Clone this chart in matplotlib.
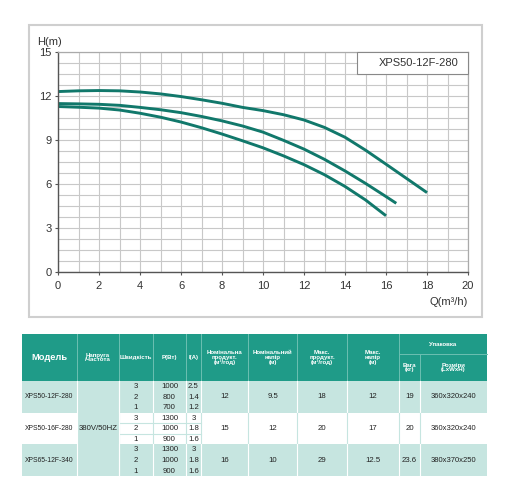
import numpy as np
import matplotlib
matplotlib.use('Agg')
import matplotlib.pyplot as plt
from matplotlib.patches import Rectangle

plt.rcParams['font.family'] = ['Liberation Sans', 'DejaVu Sans']

# pump curves
q_speed3 = [0, 1, 2, 3, 4, 5, 6, 7, 8, 9, 10, 11, 12, 13, 14, 15, 16, 17, 18]
h_speed3 = [12.3, 12.35, 12.37, 12.35, 12.27, 12.14, 11.96, 11.74, 11.5, 11.22,
            11.0, 10.72, 10.36, 9.85, 9.18, 8.3, 7.34, 6.37, 5.4]
q_speed2 = [0, 1, 2, 3, 4, 5, 6, 7, 8, 9, 10, 11, 12, 13, 14, 15, 16, 16.5]
h_speed2 = [11.48, 11.46, 11.43, 11.36, 11.22, 11.06, 10.86, 10.6, 10.3, 9.95,
            9.53, 8.97, 8.37, 7.67, 6.88, 6.03, 5.13, 4.67]
q_speed1 = [0, 1, 2, 3, 4, 5, 6, 7, 8, 9, 10, 11, 12, 13, 14, 15, 16]
h_speed1 = [11.28, 11.23, 11.17, 11.04, 10.82, 10.55, 10.22, 9.83, 9.4, 8.94,
            8.46, 7.91, 7.31, 6.62, 5.82, 4.9, 3.82]
chart_label = 'XPS50-12F-280'

# table data
header_top = ['Модель', 'Напруга\n/Частота', 'Швидкість', 'P(Вт)', 'I(A)',
              'Номінальна\nпродукт.\n(м³/год)', 'Номінальний\nнапір\n(м)',
              'Макс.\nпродукт.\n(м³/год)', 'Макс.\nнапір\n(м)']
header_pack = 'Упаковка'
header_pack_sub = ['Вага\n(кг)', 'Розміри\n(LxWxH)']
models = ['XPS50-12F-280', 'XPS50-16F-280', 'XPS65-12F-340']
voltage = '380V/50HZ'
speeds = [3, 2, 1]
power = [[1000, 800, 700], [1300, 1000, 900], [1300, 1000, 900]]
current = [[2.5, 1.4, 1.2], [3, 1.8, 1.6], [3, 1.8, 1.6]]
nom_flow = [12, 15, 16]
nom_head = [9.5, 12, 10]
max_flow = [18, 20, 29]
max_head = [12, 17, 12.5]
weight = [19, 20, 23.6]
dims = ['360x320x240', '360x320x240', '380x370x250']

TEAL = '#11786b'
HEAD_BG = '#1f9b88'
LIGHT_BG = '#c6e5e0'
TXT = '#222222'


def draw_chart(fig):
    fig.patches.append(Rectangle((0.0566, 0.3596), 0.8848, 0.5899, transform=fig.transFigure,
                                 fill=False, edgecolor='#cfcfcf', lw=1.5))
    ax = fig.add_axes([0.1133, 0.4511, 0.8008, 0.4438])
    for q, h in [(q_speed3, h_speed3), (q_speed2, h_speed2), (q_speed1, h_speed1)]:
        ax.plot(q, h, color=TEAL, lw=2.1, solid_capstyle='butt', solid_joinstyle='round')

    ax.set_xlim(0, 20)
    ax.set_ylim(0, 15)
    ax.set_xticks(np.arange(0, 21, 2))
    ax.set_yticks(np.arange(0, 16, 3))
    ax.set_xticks(np.arange(0, 21, 1), minor=True)
    ax.set_yticks(np.arange(0, 15.1, 0.75), minor=True)
    ax.grid(which='both', color='#c8c8c8', lw=0.8)
    ax.set_axisbelow(True)
    ax.tick_params(which='minor', length=0)
    ax.tick_params(which='major', length=2.5, width=0.8, color='#555', labelsize=8,
                   labelcolor='#333')
    ax.tick_params(axis='x', pad=4.5)
    ax.tick_params(axis='y', pad=2)
    for side in ['left', 'bottom']:
        ax.spines[side].set_color('#555')
        ax.spines[side].set_linewidth(1.0)
    for side in ['top', 'right']:
        ax.spines[side].set_color('#aaaaaa')
        ax.spines[side].set_linewidth(0.9)

    ax.text(-0.052, 1.03, 'H(m)', transform=ax.transAxes, fontsize=8, color='#333',
            va='baseline', ha='left')
    ax.text(1.0, -0.152, 'Q(m³/h)', transform=ax.transAxes, fontsize=8, color='#333',
            va='baseline', ha='right')

    ax.add_patch(Rectangle((0.729, 0.9), 0.271, 0.1, transform=ax.transAxes,
                           facecolor='white', edgecolor='#888888', lw=0.8, zorder=5,
                           clip_on=False))
    ax.text(0.879, 0.951, chart_label, transform=ax.transAxes, fontsize=8, color='#333',
            ha='center', va='center', zorder=6)


def fmt(v):
    return '%g' % v


def draw_table(fig):
    tab = fig.add_axes([0, 0, 1, 1])
    tab.set_xlim(0, 512)
    tab.set_ylim(495, 0)
    tab.axis('off')

    cols = [22, 77, 119, 153, 186, 201, 248, 297, 347, 399, 420, 487]
    head_top, head_mid, head_bot = 334, 354, 381
    group_h = 31.67
    sub_h = group_h / 3

    # header
    tab.add_patch(Rectangle((cols[0], head_top), cols[-1] - cols[0], head_bot - head_top,
                            facecolor=HEAD_BG, edgecolor='none'))
    sep = '#6cc0b2'
    for i, x in enumerate(cols[1:-1], start=1):
        top = head_mid if i == 10 else head_top
        tab.plot([x, x], [top, head_bot], color=sep, lw=0.7)
    tab.plot([cols[9], cols[11]], [head_mid, head_mid], color=sep, lw=0.7)

    yc = (head_top + head_bot) / 2
    for i, label in enumerate(header_top):
        xc = (cols[i] + cols[i + 1]) / 2
        if i == 0:
            tab.text(xc, yc + 0.5, label, color='white', fontsize=6.7, fontweight='bold',
                     ha='center', va='center')
        else:
            tab.text(xc, yc, label, color='white', fontsize=4.4, fontweight='bold',
                     ha='center', va='center', linespacing=0.95)
    tab.text((cols[9] + cols[11]) / 2, (head_top + head_mid) / 2, header_pack, color='white',
             fontsize=4.4, fontweight='bold', ha='center', va='center')
    for j, label in enumerate(header_pack_sub):
        tab.text((cols[9 + j] + cols[10 + j]) / 2, (head_mid + head_bot) / 2, label,
                 color='white', fontsize=4.4, fontweight='bold', ha='center', va='center',
                 linespacing=0.95)

    # body
    for g in range(len(models)):
        y0 = head_bot + g * group_h
        bg = LIGHT_BG if g != 1 else 'white'
        line_c = 'white' if g != 1 else LIGHT_BG
        tab.add_patch(Rectangle((cols[0], y0), cols[1] - cols[0], group_h,
                                facecolor=bg, edgecolor='none'))
        tab.add_patch(Rectangle((cols[2], y0), cols[-1] - cols[2], group_h,
                                facecolor=bg, edgecolor='none'))
        for x in cols[2:-1]:
            tab.plot([x, x], [y0, y0 + group_h], color=line_c, lw=0.8)
        if g == 1:
            for k in (1, 2):
                tab.plot([cols[2], cols[5]], [y0 + k * sub_h, y0 + k * sub_h],
                         color=LIGHT_BG, lw=0.8)

        ym = y0 + group_h / 2
        tab.text((cols[0] + cols[1]) / 2, ym, models[g], fontsize=4.9, color=TXT,
                 ha='center', va='center')
        merged = [nom_flow[g], nom_head[g], max_flow[g], max_head[g], weight[g]]
        for k, v in enumerate(merged):
            tab.text((cols[5 + k] + cols[6 + k]) / 2, ym, fmt(v), fontsize=5.6, color=TXT,
                     ha='center', va='center')
        tab.text((cols[10] + cols[11]) / 2, ym, dims[g], fontsize=5.5, color=TXT,
                 ha='center', va='center')
        for s in range(3):
            ys = y0 + (s + 0.5) * sub_h + 0.3
            tab.text((cols[2] + cols[3]) / 2, ys, fmt(speeds[s]), fontsize=5.6, color=TXT,
                     ha='center', va='center')
            tab.text((cols[3] + cols[4]) / 2, ys, fmt(power[g][s]), fontsize=5.6,
                     color=TXT, ha='center', va='center')
            tab.text((cols[4] + cols[5]) / 2, ys, fmt(current[g][s]), fontsize=5.6,
                     color=TXT, ha='center', va='center')

    # voltage column merged over all groups
    total_h = group_h * len(models)
    tab.add_patch(Rectangle((cols[1], head_bot), cols[2] - cols[1], total_h,
                            facecolor=LIGHT_BG, edgecolor='none'))
    tab.plot([cols[1], cols[1]], [head_bot, head_bot + total_h], color='white', lw=0.8)
    tab.plot([cols[2], cols[2]], [head_bot, head_bot + total_h], color='white', lw=0.8)
    tab.text((cols[1] + cols[2]) / 2, head_bot + total_h / 2, voltage, fontsize=5.6,
             color=TXT, ha='center', va='center')


def main():
    fig = plt.figure(figsize=(5.12, 4.95), dpi=100)
    fig.patch.set_facecolor('white')
    draw_chart(fig)
    draw_table(fig)
    fig.savefig('out.png', dpi=100)


if __name__ == '__main__':
    main()
